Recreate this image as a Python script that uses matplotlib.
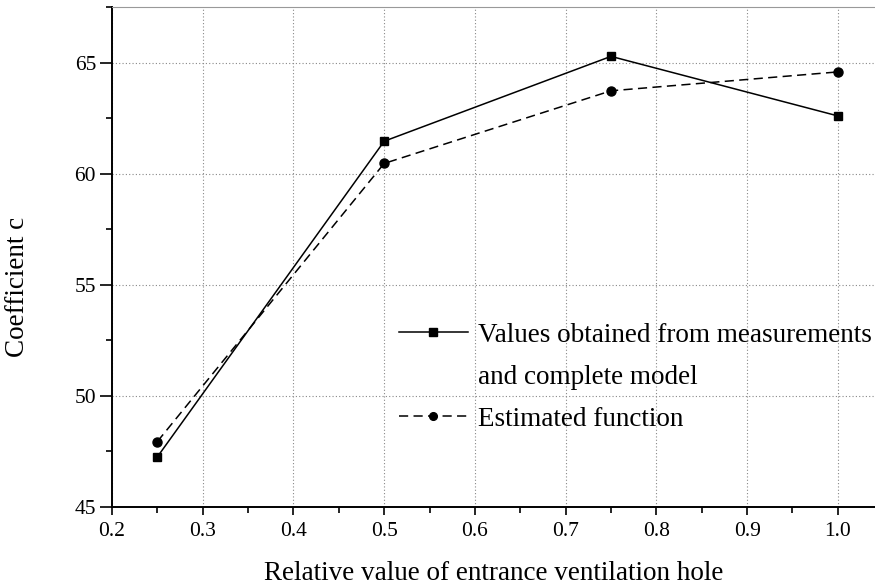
import matplotlib
matplotlib.use("Agg")
import matplotlib.pyplot as plt
from matplotlib.lines import Line2D
from matplotlib.ticker import MultipleLocator

# relative value of entrance ventilation hole
x_vals = [0.25, 0.5, 0.75, 1.0]
# coefficient c
measured = [47.25, 61.46, 65.28, 62.6]
estimated = [47.94, 60.46, 63.73, 64.58]

label_measured = ["Values obtained from measurements", "and complete model"]
label_estimated = "Estimated function"

plt.rcParams['font.family'] = ['Liberation Serif', 'DejaVu Serif']

fig = plt.figure(figsize=(8.75, 5.88), dpi=100)
ax = fig.add_axes([0.128, 0.138, 0.872, 0.85])

l1, = ax.plot(x_vals, measured, '-', color='black', lw=1.1, marker='s', ms=6)
l2, = ax.plot(x_vals, estimated, '--', color='black', lw=1.1, marker='o', ms=6.5,
              dashes=(6, 3.5))

ax.set_xlim(0.2, 1.041)
ax.set_ylim(45, 67.5)
ax.xaxis.set_major_locator(MultipleLocator(0.1))
ax.xaxis.set_minor_locator(MultipleLocator(0.05))
ax.yaxis.set_major_locator(MultipleLocator(5))
ax.yaxis.set_minor_locator(MultipleLocator(2.5))
ax.xaxis.set_major_formatter(plt.FuncFormatter(lambda v, p: f"{v:.1f}"))

ax.grid(True, which='major', linestyle=(0, (1, 2)), color='#888888', lw=0.8)
ax.tick_params(which='major', direction='out', width=1.2, labelsize=15.5)
ax.tick_params(axis='x', which='major', length=6, pad=5)
ax.tick_params(axis='x', which='minor', length=4, width=1.2)
ax.tick_params(axis='y', which='major', length=8.5, pad=3)
ax.tick_params(axis='y', which='minor', length=4.5, width=1.2)

ax.spines['right'].set_visible(False)
ax.spines['top'].set_color('#999999')
ax.spines['top'].set_linewidth(0.8)
ax.spines['left'].set_linewidth(1.4)
ax.spines['bottom'].set_linewidth(1.4)

ax.set_xlabel("Relative value of entrance ventilation hole", fontsize=19.5, labelpad=14)
ax.set_ylabel("Coefficient c", fontsize=19.5)
ax.yaxis.set_label_coords(-0.108, 0.44)

# second line of the first label gets an empty handle
blank = Line2D([], [], linestyle='none')
ax.legend(handles=[l1, blank, l2],
          labels=[label_measured[0], label_measured[1], label_estimated],
          loc='upper left', bbox_to_anchor=(0.376, 0.368), frameon=False,
          fontsize=19.5, handlelength=2.55, handletextpad=0.37, borderpad=0,
          borderaxespad=0, markerscale=0.85, labelspacing=0.62)

fig.savefig("out.png", dpi=100)
